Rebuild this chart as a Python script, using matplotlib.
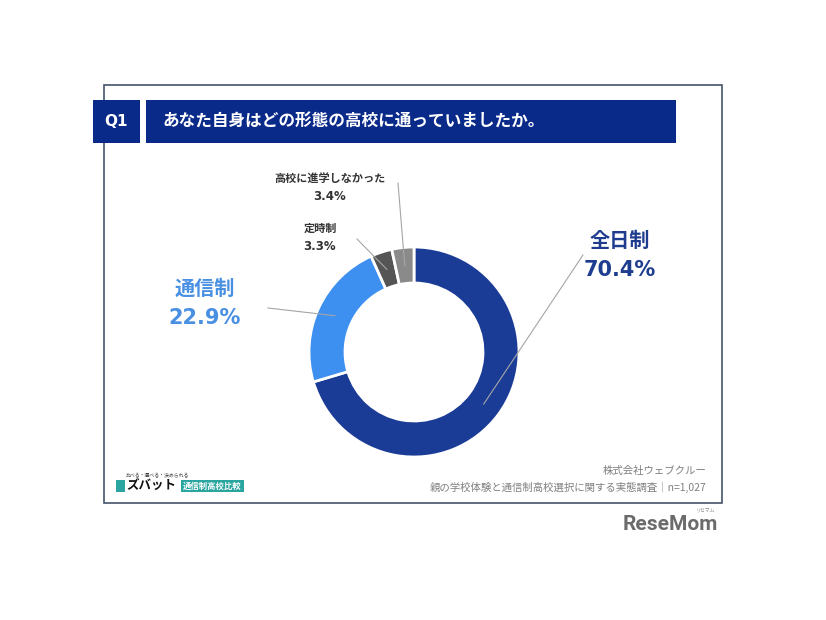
import numpy as np
import matplotlib.pyplot as plt
from matplotlib.patches import Rectangle

plt.rcParams['font.family'] = ['Noto Sans CJK JP', 'DejaVu Sans']

# Data
categories = ["全日制", "通信制", "定時制", "高校に進学しなかった"]
values = [70.4, 22.9, 3.3, 3.4]
pct_labels = ["70.4%", "22.9%", "3.3%", "3.4%"]
colors = ["#1a3c96", "#3d8ff0", "#555555", "#8a8a8a"]

W, H = 826, 620
fig = plt.figure(figsize=(W / 100, H / 100), dpi=100)
ax = fig.add_axes([0, 0, 1, 1])

def py(y):
    # pixel y (from top) to data y
    return H - y

num_font = ["DejaVu Sans"]

# outer frame
ax.add_patch(Rectangle((104, py(503)), 618, 418, fill=False, edgecolor="#44546a", linewidth=1.2))

# header boxes
ax.add_patch(Rectangle((93, py(143)), 47, 43, facecolor="#0a2a8a", edgecolor="none"))
ax.add_patch(Rectangle((146, py(143)), 530, 43, facecolor="#0a2a8a", edgecolor="none"))
ax.text(116, py(121), "Q1", color="white", fontsize=11, fontweight="bold", ha="center", va="center",
        family=num_font)
ax.text(163, py(121), "あなた自身はどの形態の高校に通っていましたか。", color="white",
        fontsize=12, fontweight="bold", ha="left", va="center")

# donut
cx, cy = 414, py(352)
r_out, r_in = 105, 69
wedges, _ = ax.pie(values, colors=colors, startangle=90, counterclock=False,
                   center=(cx, cy), radius=r_out,
                   wedgeprops=dict(width=r_out - r_in, edgecolor="white", linewidth=2))

# labels and leader lines
label_pos = [(620, 240), (205, 288), (320, 228), (330, 178)]
line_end = [(583, 255), (268, 308), (357, 239), (398, 183)]
label_colors = ["#1f3d8f", "#4a90e2", "#333333", "#333333"]
cum = np.cumsum([0] + values)
for i, (cat, pct) in enumerate(zip(categories, pct_labels)):
    mid = 90 - 3.6 * (cum[i] + values[i] / 2)
    rm = (r_out + r_in) / 2
    sx = cx + rm * np.cos(np.radians(mid))
    sy = cy + rm * np.sin(np.radians(mid))
    ex, ey = line_end[i]
    ax.plot([sx, ex], [sy, py(ey)], color="#a6a6a6", linewidth=0.8, zorder=3)
    lx, ly = label_pos[i]
    if i < 2:
        ax.text(lx, py(ly), cat, color=label_colors[i], fontsize=14.5, fontweight="bold",
                ha="center", va="center")
        ax.text(lx, py(ly + 30), pct, color=label_colors[i], fontsize=15, fontweight="bold",
                ha="center", va="center", family=num_font)
    else:
        ax.text(lx, py(ly), cat, color=label_colors[i], fontsize=8, fontweight="bold",
                ha="center", va="center")
        ax.text(lx, py(ly + 19), pct, color=label_colors[i], fontsize=8.5, fontweight="bold",
                ha="center", va="center", family=num_font)

# footer source
ax.text(706, py(471), "株式会社ウェブクルー", color="#7f7f7f", fontsize=7.5, ha="right", va="center")
ax.text(706, py(487), "親の学校体験と通信制高校選択に関する実態調査｜n=1,027", color="#7f7f7f",
        fontsize=7.5, ha="right", va="center")

# logo (left bottom)
ax.text(126, py(476), "比べる・選べる・決められる", color="#333333", fontsize=3.5, ha="left", va="center")
ax.add_patch(Rectangle((116, py(492)), 9, 12, facecolor="#2aa5a0", edgecolor="none"))
ax.text(126, py(486), "ズバット", color="#111111", fontsize=9, fontweight="bold", ha="left", va="center")
ax.add_patch(Rectangle((181, py(492)), 63, 12, facecolor="#2aa5a0", edgecolor="none"))
ax.text(212.5, py(486), "通信制高校比較", color="white", fontsize=6, fontweight="bold", ha="center", va="center")

# ReseMom logo
ax.text(670, py(524), "ReseMom", color="#6b6b6b", fontsize=15, fontweight="bold",
        ha="center", va="center", family=["Roboto", "DejaVu Sans"])
ax.text(706, py(510), "リセマム", color="#888888", fontsize=3.5, ha="center", va="center")

ax.set_xlim(0, W)
ax.set_ylim(0, H)
ax.set_aspect("auto")
ax.axis("off")

fig.savefig("out.png", dpi=100, facecolor="white")
